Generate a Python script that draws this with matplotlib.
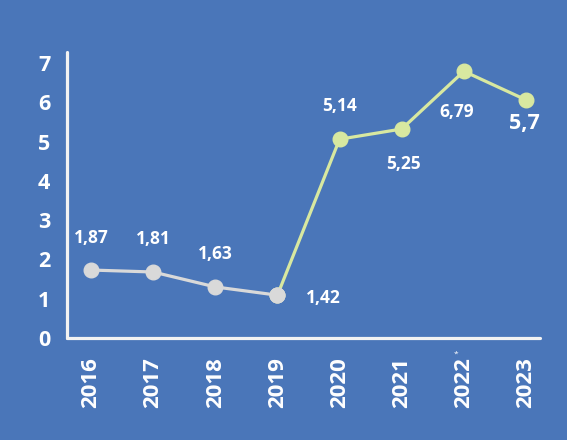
import matplotlib.pyplot as plt
from matplotlib.transforms import offset_copy

# data
years = ["2016", "2017", "2018", "2019", "2020", "2021", "2022", "2023"]
# heights of the drawn markers (as placed in the picture)
values = [1.73, 1.68, 1.30, 1.09, 5.06, 5.32, 6.79, 6.06]
# printed value labels
labels = ["1,87", "1,81", "1,63", "1,42", "5,14", "5,25", "6,79", "5,7"]
grey_idx = [0, 1, 2, 3]
green_idx = [3, 4, 5, 6, 7]

BG = "#4a76b9"
GREY = "#d9d9d9"
GREEN = "#d8e8a0"
AXIS = "#f2f2f2"
FONT = "Open Sans"

W, H = 567, 440
fig = plt.figure(figsize=(W / 100, H / 100), dpi=100, facecolor=BG)
ax = fig.add_axes([67 / W, (H - 338) / H, (540 - 67) / W, (338 - 52) / H])
ax.set_facecolor(BG)

x = list(range(len(years)))
ax.plot([x[i] for i in green_idx], [values[i] for i in green_idx],
        color=GREEN, lw=2.3, marker="o", ms=10.5, zorder=3, clip_on=False)
ax.plot([x[i] for i in grey_idx], [values[i] for i in grey_idx],
        color=GREY, lw=2.3, marker="o", ms=10.5, zorder=4, clip_on=False)
# redraw the 2019 marker grey on top
ax.plot([x[3]], [values[3]], "o", color=GREY, ms=10.5, zorder=5, clip_on=False)

# label offsets in points (dx, dy) relative to the marker
offsets = [(0, 23), (0, 24), (0, 24), (33, -2), (0, 24), (1, -25), (-5, -29), (-1, -17)]
sizes = [12.5, 12.5, 12.5, 12.5, 12.5, 12.5, 12.5, 15.5]
for i, lab in enumerate(labels):
    dx, dy = offsets[i]
    ax.annotate(lab, (x[i], values[i]), xytext=(dx, dy), textcoords="offset points",
                ha="center", va="center", color="white", fontsize=sizes[i],
                fontweight="bold", family=FONT, annotation_clip=False)

ax.set_xlim(-0.386, 7.225)
ax.set_ylim(0, 7.28)
ax.set_xticks(x)
ax.set_xticklabels(years, rotation=90, fontsize=16, fontweight="bold",
                   family=FONT, color="white")
ax.set_yticks(range(8))
ax.set_yticklabels([str(v) for v in range(8)], fontsize=15.5, fontweight="bold",
                   family=FONT, color="white")
ax.tick_params(axis="both", length=0)
ax.tick_params(axis="x", pad=14)
ax.tick_params(axis="y", pad=12)

for side in ["top", "right"]:
    ax.spines[side].set_visible(False)
for side in ["left", "bottom"]:
    ax.spines[side].set_color(AXIS)
    ax.spines[side].set_linewidth(2.3)
    ax.spines[side].set_capstyle("round")

# small asterisk on 2022
tr = offset_copy(ax.get_xaxis_transform(), fig=fig, x=-6, y=-12, units="points")
ax.text(x[6], 0, "*", transform=tr, color="white", fontsize=6,
        ha="center", va="center", family=FONT)

fig.savefig("out.png", dpi=100, facecolor=BG)
